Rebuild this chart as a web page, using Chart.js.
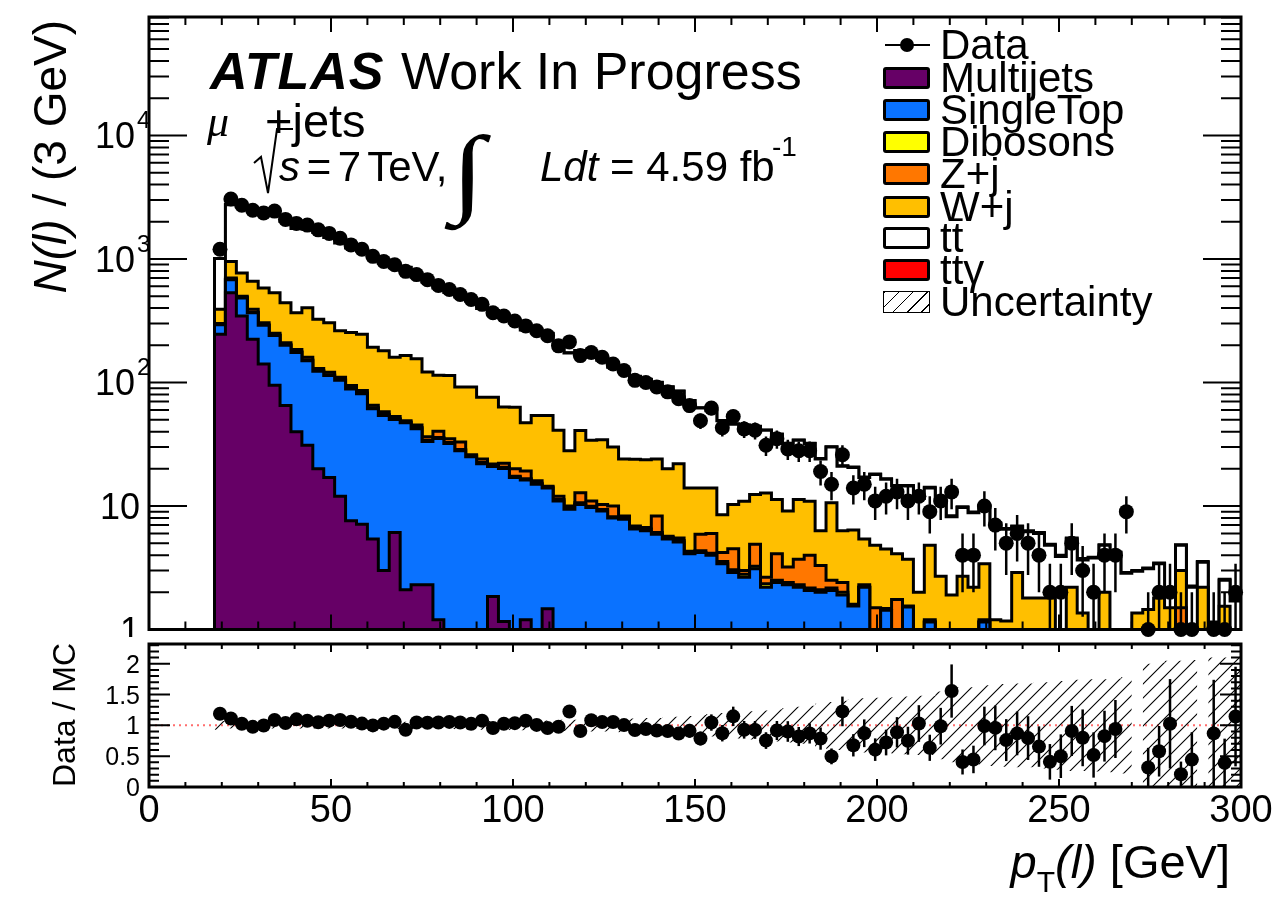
<!DOCTYPE html>
<html lang="en">
<head>
<meta charset="utf-8">
<title>Lepton pT, mu+jets</title>
<script src="https://cdn.jsdelivr.net/npm/chart.js@4.4.1/dist/chart.umd.min.js"></script>
<style>
  html, body { margin: 0; padding: 0; background: #fff; }
  #plot { position: relative; width: 1277px; height: 900px; overflow: hidden;
          font-family: "Liberation Sans", Arial, Helvetica, sans-serif; color: #000; }
  #plot canvas { position: absolute; left: 0; }
  #mainCanvas { top: 0; }
  #ratioCanvas { top: 637px; }
  .t { position: absolute; white-space: nowrap; line-height: 1; }
  .serif { font-family: "Liberation Serif", "DejaVu Serif", serif; }
  .rot { transform-origin: 0 0; transform: rotate(-90deg); text-align: right; }
  .box { position: absolute; left: 883px; width: 47px; height: 22px; box-sizing: border-box;
         border: 3px solid #000; border-radius: 3px; }
  .lab { position: absolute; left: 940px; font-size: 42px; line-height: 1; white-space: nowrap; }
</style>
</head>
<body>
<div id="plot">
  <canvas id="mainCanvas" width="1277" height="637"></canvas>
  <canvas id="ratioCanvas" width="1277" height="263"></canvas>

  <div class="t" style="left:210px; top:45px; font-size:52px; font-weight:bold; font-style:italic; letter-spacing:1px;">ATLAS</div>
  <div class="t" style="left:401px; top:45px; font-size:52px;">Work In Progress</div>
  <div class="t serif" style="left:207px; top:100px; font-size:44px; font-style:italic;">μ</div>
  <div class="t" style="left:265px; top:97px; font-size:47px;">+jets</div>
  <svg style="position:absolute; left:0; top:0;" width="1277" height="300">
    <polyline points="254,163 261,157 268,193 277,129 293,129" fill="none" stroke="#000" stroke-width="2"/>
  </svg>
  <div class="t" style="left:279px; top:146px; font-size:42px; word-spacing:-5px;"><i>s</i> = 7 TeV,</div>
  <div class="t serif" style="left:451px; top:122px; font-size:98px; transform:scaleX(1.25); transform-origin:0 0;">∫</div>
  <div class="t" style="left:540px; top:146px; font-size:42px;"><i>Ldt</i> = 4.59 fb</div>
  <div class="t" style="left:772px; top:133px; font-size:28px;">-1</div>

  <div class="t rot" style="left:27px; top:340px; width:320px; font-size:46px;"><i>N(l)</i> / (3 GeV)</div>
  <div class="t rot" style="left:48px; top:843px; width:200px; font-size:32px;">Data / MC</div>
  <div class="t" style="right:47px; top:838px; font-size:47px;"><i>p</i><span style="font-size:30px; position:relative; top:14px;">T</span><i>(l)</i> [GeV]</div>

  <div id="legend"></div>
</div>

<script>
// ---- binning (GeV) ----
const binEdges = [18, 21, 24, 27, 30, 33, 36, 39, 42, 45,
  48, 51, 54, 57, 60, 63, 66, 69, 72, 75,
  78, 81, 84, 87, 90, 93, 96, 99, 102, 105,
  108, 111, 114, 117, 120, 123, 126, 129, 132, 135,
  138, 141, 144, 147, 150, 153, 156, 159, 162, 165,
  168, 171, 174, 177, 180, 183, 186, 189, 192, 195,
  198, 201, 204, 207, 210, 213, 216, 219, 222, 225,
  228, 231, 234, 237, 240, 243, 246, 249, 252, 255,
  258, 261, 264, 267, 270, 273, 276, 279, 282, 285,
  288, 291, 294, 297, 300];

// ---- events per bin ----
const dataCounts = [1200, 3060, 2720, 2480, 2360, 2440, 2090, 1940, 1880, 1720,
  1610, 1470, 1300, 1200, 1050, 955, 898, 794, 747, 680,
  611, 566, 516, 470, 429, 367, 345, 315, 287, 262,
  239, 198, 213, 165, 175, 160, 141, 125, 104, 100,
  92, 84, 74, 65, 49, 62, 43, 53, 42, 41,
  31, 35, 29, 28, 28, 19, 15, 26, 14, 15,
  11, 12, 13, 11, 12, 9, 11, 13, 4, 4,
  10, 7, 5, 6, 5, 4, 2, 2, 5, 3,
  2, 4, 4, 9, 0, 1, 2, 2, 1, 1,
  0, 1, 1, 2];

const multijets = [246, 532, 345, 224, 141, 95, 65, 40, 31, 20,
  17, 12, 7.6, 7.1, 5.4, 3.0, 6.1, 2.1, 2.3, 2.3,
  1.2, 0, 0, 0, 0, 1.85, 1.16, 0, 1.2, 0,
  1.47, 0, 0, 0, 0, 0, 0, 0, 0, 0,
  0, 0, 0, 0, 0, 0, 0, 0, 0, 0,
  0, 0, 0, 0, 0, 0, 0, 0, 0, 0,
  0, 0, 0, 0, 0, 0, 0, 0, 0, 0,
  0, 0, 0, 0, 0, 0, 0, 0, 0, 0,
  0, 0, 0, 0, 0, 0, 0, 0, 0, 0,
  0, 0, 0, 0];

const singleTop = [48, 148, 139, 143, 149, 145, 135, 135, 119, 103,
  97, 92, 81, 74, 56, 51, 44, 45, 40, 31,
  34, 32, 28, 25, 22, 19, 19, 17, 15, 15,
  12.5, 11, 9.4, 10.3, 9.7, 9.1, 8.0, 7.8, 6.5, 6.3,
  5.9, 5.4, 5.1, 4.1, 4.2, 4.0, 3.4, 2.9, 2.65, 3.1,
  2.2, 2.4, 2.3, 2.2, 2.07, 2.0, 2.07, 1.9, 1.55, 2.2,
  0.8, 1.43, 0.8, 1.52, 0.5, 1.15, 0.3, 0.3, 0.3, 0.3,
  1.15, 0.2, 0.2, 0.2, 0.2, 0.2, 0.2, 0.1, 0.1, 0.1,
  0.1, 0.1, 0.1, 0.1, 0.1, 0.1, 0.1, 0.1, 1.0, 0.1,
  0.1, 0.1, 0.1, 0.1];

const dibosons = [1, 3, 3, 3, 2.5, 2.5, 2, 2, 2, 1.5,
  1.5, 1.5, 1.2, 1.2, 1, 1, 0.8, 0.8, 0.8, 0.7,
  0.7, 0.6, 0.6, 0.5, 0.5, 0.5, 0.4, 0.4, 0.4, 0.3,
  0.3, 0.3, 0.3, 0.3, 0.25, 0.25, 0.2, 0.2, 0.2, 0.2,
  0.2, 0.15, 0.15, 0.15, 0.15, 0.15, 0.15, 0.15, 0.15, 0.15,
  0.15, 0.1, 0.1, 0.1, 0.1, 0.1, 0.1, 0.1, 0, 0,
  0, 0, 0, 0, 0, 0, 0, 0, 0, 0,
  0, 0, 0, 0, 0, 0, 0, 0, 0, 0,
  0, 0, 0, 0, 0, 0, 0, 0, 0, 0,
  0, 0, 0, 0];

const zJets = [5, 17, 13, 21, 12.5, 7.5, 8, 8, 8, 5.5,
  5.5, 4.5, 4.8, 3.8, 3, 3, 2.2, 1.2, 2.2, 2.3,
  4.3, 2.4, 4.4, 0.5, 1.5, 0.5, 1.6, 2.6, 2.6, 0.7,
  0.2, 0.7, 0.3, 2.2, 1.05, 0.95, 1.8, 0.3, 0.2, 0.2,
  2.2, 0.15, 0.25, 0.05, 1.55, 1.85, 0.65, 1.45, 0.2, 1.65,
  0.3, 1.6, 0.8, 1.4, 1.83, 1.2, 0.33, 0.4, 0.05, 0.1,
  0.7, 0.05, 0.95, 0.03, 0.1, 0.05, 0.1, 0.1, 0.1, 0.1,
  0.05, 0.1, 0.1, 0.1, 0.1, 0.1, 0.1, 0.1, 0.1, 0.1,
  0.1, 0.1, 0.1, 0.1, 0.1, 0.1, 0.1, 0.1, 0.5, 0.1,
  0.1, 0.1, 0.1, 0.1];

const wJets = [91, 255, 270, 268, 278, 282, 232, 182, 243, 195,
  184, 152, 159, 160, 127, 123, 107, 116, 110, 85,
  74, 79, 59, 66, 52, 54, 41, 43, 28, 38,
  39.5, 29, 18, 28, 23, 24, 20, 15.7, 17, 17,
  15.7, 14.3, 16.5, 9.7, 8.1, 8, 4.3, 5.8, 7.9, 7.5,
  10.1, 7.2, 5.9, 7.6, 6.9, 3, 8.1, 3.9, 4.8, 3.1,
  3.3, 3.0, 2.35, 2.15, 1.4, 3.6, 2.3, 1.5, 2.3, 1.8,
  2.2, 0.9, 0.87, 2.6, 1.5, 1.5, 1.5, 0.5, 2.0, 1.16,
  0.4, 1.8, 0.4, 0.4, 1.16, 1.25, 1.6, 1.3, 1.5, 0.3,
  2.0, 0.4, 1.34, 0.8];

const ttbar = [617, 1795, 1876, 1876, 1779, 1707, 1567, 1397, 1341, 1310,
  1187, 1086, 972, 918, 855, 746, 687, 689, 556, 529,
  468, 420, 399, 364, 321, 306, 272, 240, 219, 205,
  195, 161, 145, 140, 127, 117, 103, 100, 88, 82,
  76, 72, 63, 57, 48, 45, 40.5, 35.7, 34.1, 31.6,
  28.2, 26.7, 22.9, 22.7, 21.1, 17.7, 19.4, 14.7, 14.1, 11.6,
  13.2, 12, 10.4, 10.8, 9.5, 9.2, 8.3, 6.3, 7.0, 6.6,
  6.6, 6.0, 5.3, 3.9, 4.4, 4.2, 3.0, 3.2, 3.2, 2.3,
  3.2, 2.8, 3.6, 2.25, 1.6, 1.65, 1.6, 0.4, 1.8, 1.7,
  1.3, 0.5, 0.96, 0.7];

const ttGamma = [2, 6, 6, 6, 5, 5, 5, 4, 4, 4,
  4, 3, 3, 3, 3, 2.5, 2.5, 2.5, 2, 2,
  2, 1.8, 1.6, 1.5, 1.4, 1.3, 1.2, 1.1, 1, 1,
  0.9, 0.8, 0.8, 0.7, 0.7, 0.6, 0.6, 0.5, 0.5, 0.5,
  0.4, 0.4, 0.4, 0.35, 0.3, 0.3, 0.3, 0.25, 0.25, 0.25,
  0.2, 0.2, 0.2, 0.2, 0.2, 0.2, 0.2, 0.2, 0.2, 0.2,
  0.15, 0.15, 0.15, 0.15, 0.15, 0.15, 0.15, 0.15, 0.15, 0.15,
  0.1, 0.1, 0.1, 0.1, 0.1, 0.1, 0.1, 0.1, 0.1, 0.1,
  0.05, 0.05, 0.05, 0.05, 0.05, 0.05, 0.05, 0.05, 0.05, 0.05,
  0.05, 0.05, 0.05, 0.05];

// relative MC uncertainty, shown as the hatched band in the ratio
const mcRelErr = [0.07, 0.05, 0.05, 0.05, 0.05, 0.05, 0.05, 0.05, 0.05, 0.05,
  0.05, 0.05, 0.05, 0.05, 0.06, 0.06, 0.06, 0.06, 0.06, 0.06,
  0.06, 0.06, 0.07, 0.07, 0.07, 0.07, 0.07, 0.08, 0.08, 0.08,
  0.08, 0.09, 0.09, 0.09, 0.1, 0.1, 0.1, 0.11, 0.11, 0.12,
  0.12, 0.13, 0.14, 0.15, 0.17, 0.18, 0.2, 0.21, 0.22, 0.23,
  0.24, 0.26, 0.28, 0.3, 0.32, 0.35, 0.38, 0.4, 0.42, 0.44,
  0.45, 0.45, 0.46, 0.47, 0.48, 0.48, 0.55, 0.6, 0.62, 0.62,
  0.65, 0.66, 0.67, 0.68, 0.68, 0.7, 0.7, 0.72, 0.74, 0.74,
  0.75, 0.75, 0.76, 0.78, 0.8, 1.0, 1.02, 1.05, 1.05, 1.06,
  1.08, 1.1, 1.1, 1.12];

const sampleNames = ['Multijets', 'SingleTop', 'Dibosons', 'Z+j', 'W+j', 'tt̄', 'ttγ'];
const sampleColors = ['#660066', '#0a72ff', '#ffff00', '#ff7700', '#ffbf00', '#ffffff', '#ff0000'];

const xTicks = [0, 50, 100, 150, 200, 250, 300];
const yTicks = [1, 10, 100, 1000, 10000];
const yTickText = [['1', ''], ['10', ''], ['10', '2'], ['10', '3'], ['10', '4']];
const ratioTicks = [0, 0.5, 1, 1.5, 2];
const ratioTickText = ['0', '0.5', '1', '1.5', '2'];

const FONT = px => px + 'px "Liberation Sans", Arial, Helvetica, sans-serif';
const FLOOR = 1e-3;   // stands in for empty bins on the log axis
const nBins = dataCounts.length;
const centers = binEdges.slice(0, -1).map((lo, i) => (lo + binEdges[i + 1]) / 2);

// running sums -> top edge of every layer of the stack
const samples = [multijets, singleTop, dibosons, zJets, wJets, ttbar, ttGamma];
const layerTops = [];
let acc = new Array(nBins).fill(0);
samples.forEach(s => {
    acc = acc.map((a, i) => a + s[i]);
    layerTops.push(acc);
});
const mcTotal = layerTops[layerTops.length - 1];

function stepPoints(vals) {
    const pts = [{ x: binEdges[0], y: FLOOR }];
    vals.forEach((v, i) => {
        const y = v > 0 ? v : FLOOR;
        pts.push({ x: binEdges[i], y }, { x: binEdges[i + 1], y });
    });
    pts.push({ x: binEdges[nBins], y: FLOOR });
    return pts;
}

const dataPts = [], dataErr = [], ratioPts = [], ratioErr = [];
dataCounts.forEach((n, i) => {
    if (n <= 0) return;
    dataPts.push({ x: centers[i], y: n });
    dataErr.push(Math.sqrt(n));
    ratioPts.push({ x: centers[i], y: n / mcTotal[i] });
    ratioErr.push(Math.sqrt(n) / mcTotal[i]);
});

function bandPoints(sign) {
    const pts = [];
    dataCounts.forEach((n, i) => {
        if (n > 0) {
            const y = 1 + sign * mcRelErr[i];
            pts.push({ x: binEdges[i], y }, { x: binEdges[i + 1], y });
        } else {
            pts.push({ x: centers[i], y: null });
        }
    });
    return pts;
}

function makeHatch() {
    const s = 14;
    const c = document.createElement('canvas');
    c.width = s; c.height = s;
    const g = c.getContext('2d');
    g.strokeStyle = '#000';
    g.lineWidth = 1.1;
    g.beginPath();
    g.moveTo(0, s); g.lineTo(s, 0);
    g.moveTo(-2, 2); g.lineTo(2, -2);
    g.moveTo(s - 2, s + 2); g.lineTo(s + 2, s - 2);
    g.stroke();
    return g.createPattern(c, 'repeat');
}

// vertical error bars on the first dataset
const errorBars = {
    id: 'errorBars',
    afterDatasetsDraw(chart, args, opts) {
        const { ctx, chartArea: a, scales: { y } } = chart;
        const meta = chart.getDatasetMeta(0);
        const pts = chart.data.datasets[0].data;
        ctx.save();
        ctx.beginPath();
        ctx.rect(a.left, a.top, a.right - a.left, a.bottom - a.top);
        ctx.clip();
        ctx.strokeStyle = '#000';
        ctx.lineWidth = opts.width;
        meta.data.forEach((el, i) => {
            const v = pts[i].y, e = opts.errors[i];
            if (v > y.max) return;
            const lo = v - e;
            ctx.beginPath();
            ctx.moveTo(el.x, y.getPixelForValue(v + e));
            ctx.lineTo(el.x, lo > 0 ? y.getPixelForValue(lo) : a.bottom);
            ctx.stroke();
        });
        ctx.restore();
    }
};

const mainAxes = {
    id: 'mainAxes',
    afterDraw(chart) {
        const { ctx, chartArea: a, scales: { x, y } } = chart;
        ctx.save();
        ctx.strokeStyle = '#000';
        ctx.lineWidth = 2;
        ctx.beginPath();
        for (let v = 0; v <= 300; v += 10) {
            const px = x.getPixelForValue(v), len = v % 50 === 0 ? 15 : 8;
            ctx.moveTo(px, a.bottom); ctx.lineTo(px, a.bottom - len);
            ctx.moveTo(px, a.top); ctx.lineTo(px, a.top + len);
        }
        for (let d = 1; d <= 10000; d *= 10) {
            for (let m = 1; m <= 9; m++) {
                const v = m * d;
                if (v > y.max) break;
                const py = y.getPixelForValue(v), len = m === 1 ? 38 : 20;
                ctx.moveTo(a.left, py); ctx.lineTo(a.left + len, py);
                ctx.moveTo(a.right, py); ctx.lineTo(a.right - len, py);
            }
        }
        ctx.stroke();
        ctx.lineWidth = 3;
        ctx.strokeRect(a.left, a.top, a.right - a.left, a.bottom - a.top);

        ctx.fillStyle = '#000';
        ctx.textBaseline = 'alphabetic';
        yTicks.forEach((v, k) => {
            const py = y.getPixelForValue(v);
            const [base, exp] = yTickText[k];
            ctx.font = FONT(36);
            ctx.textAlign = 'right';
            if (exp) {
                ctx.fillText(base, 135, py + 13);
                ctx.font = FONT(24);
                ctx.textAlign = 'left';
                ctx.fillText(exp, 137, py - 7);
            } else {
                ctx.fillText(base, 140, py + 13);
            }
        });
        ctx.restore();
    }
};

const ratioAxes = {
    id: 'ratioAxes',
    beforeDatasetsDraw(chart) {
        const { ctx, chartArea: a, scales: { y } } = chart;
        const py = y.getPixelForValue(1);
        ctx.save();
        ctx.strokeStyle = 'rgba(255, 60, 60, 0.75)';
        ctx.lineWidth = 2;
        ctx.setLineDash([2, 4]);
        ctx.beginPath();
        ctx.moveTo(a.left, py); ctx.lineTo(a.right, py);
        ctx.stroke();
        ctx.restore();
    },
    afterDraw(chart) {
        const { ctx, chartArea: a, scales: { x, y } } = chart;
        ctx.save();
        ctx.strokeStyle = '#000';
        ctx.lineWidth = 2;
        ctx.beginPath();
        for (let v = 0; v <= 300; v += 10) {
            const px = x.getPixelForValue(v), len = v % 50 === 0 ? 8 : 5;
            ctx.moveTo(px, a.bottom); ctx.lineTo(px, a.bottom - len);
            ctx.moveTo(px, a.top); ctx.lineTo(px, a.top + len);
        }
        for (let k = 0; k <= 23; k++) {
            const py = y.getPixelForValue(k / 10), len = k % 5 === 0 ? 21 : 10;
            ctx.moveTo(a.left, py); ctx.lineTo(a.left + len, py);
            ctx.moveTo(a.right, py); ctx.lineTo(a.right - len, py);
        }
        ctx.stroke();
        ctx.lineWidth = 3;
        ctx.strokeRect(a.left, a.top, a.right - a.left, a.bottom - a.top);

        ctx.fillStyle = '#000';
        ctx.textBaseline = 'alphabetic';
        ctx.font = FONT(25);
        ctx.textAlign = 'right';
        ratioTicks.forEach((v, k) => ctx.fillText(ratioTickText[k], 140, y.getPixelForValue(v) + 9));
        ctx.font = FONT(38);
        ctx.textAlign = 'center';
        xTicks.forEach(v => ctx.fillText(String(v), x.getPixelForValue(v), a.bottom + 35));
        ctx.restore();
    }
};

const common = {
    responsive: false,
    animation: false,
    devicePixelRatio: 1,
    events: []
};

new Chart(document.getElementById('mainCanvas'), {
    type: 'line',
    data: {
        datasets: [
            {
                label: 'Data', data: dataPts, showLine: false, clip: 10,
                pointRadius: 7.5, pointHoverRadius: 7.5, pointBorderWidth: 0,
                pointBackgroundColor: '#000', pointBorderColor: '#000'
            },
            ...layerTops.map((lv, k) => ({
                label: sampleNames[k],
                data: stepPoints(lv),
                borderColor: '#000',
                borderWidth: 3,
                borderJoinStyle: 'miter',
                backgroundColor: sampleColors[k],
                fill: 'start',
                pointRadius: 0
            }))
        ]
    },
    options: {
        ...common,
        layout: { padding: { left: 149, right: 36, top: 17, bottom: 0 } },
        scales: {
            x: { type: 'linear', min: 0, max: 300, display: false },
            y: { type: 'logarithmic', min: 1, max: 91000, display: false }
        },
        plugins: {
            legend: { display: false },
            tooltip: { enabled: false },
            errorBars: { errors: dataErr, width: 2.5 }
        }
    },
    plugins: [errorBars, mainAxes]
});

new Chart(document.getElementById('ratioCanvas'), {
    type: 'line',
    data: {
        datasets: [
            {
                label: 'Data / MC', data: ratioPts, showLine: false,
                pointRadius: 7, pointHoverRadius: 7, pointBorderWidth: 0,
                pointBackgroundColor: '#000', pointBorderColor: '#000'
            },
            {
                label: 'Uncertainty', data: bandPoints(1), borderColor: 'rgba(0,0,0,0)',
                pointRadius: 0, fill: '+1', backgroundColor: makeHatch()
            },
            {
                label: 'Uncertainty low', data: bandPoints(-1), borderColor: 'rgba(0,0,0,0)',
                pointRadius: 0, fill: false
            }
        ]
    },
    options: {
        ...common,
        layout: { padding: { left: 149, right: 36, top: 0, bottom: 113 } },
        scales: {
            x: { type: 'linear', min: 0, max: 300, display: false },
            y: { type: 'linear', min: 0, max: 2.32, display: false }
        },
        plugins: {
            legend: { display: false },
            tooltip: { enabled: false },
            errorBars: { errors: ratioErr, width: 2.5 }
        }
    },
    plugins: [errorBars, ratioAxes]
});

// legend, ROOT style
const legendRows = [45, 78, 110, 142, 174, 207, 238, 270, 302];
const legend = document.getElementById('legend');
function addLabel(text, cy) {
    const d = document.createElement('div');
    d.className = 'lab';
    d.style.top = (cy - 20.6) + 'px';
    d.textContent = text;
    legend.appendChild(d);
}
function addDiv(css) {
    const d = document.createElement('div');
    d.style.cssText = 'position:absolute;' + css;
    legend.appendChild(d);
    return d;
}
addDiv(`left:885px; top:${legendRows[0] - 1}px; width:45px; height:2px; background:#000;`);
addDiv(`left:900px; top:${legendRows[0] - 7}px; width:14px; height:14px; border-radius:50%; background:#000;`);
addLabel('Data', legendRows[0]);
sampleNames.forEach((name, k) => {
    const cy = legendRows[k + 1];
    const b = addDiv('');
    b.className = 'box';
    b.style.top = (cy - 11) + 'px';
    b.style.background = sampleColors[k];
    addLabel(name, cy);
});
const ub = addDiv('');
ub.className = 'box';
ub.style.top = (legendRows[8] - 11) + 'px';
ub.style.border = '1.5px solid #000';
ub.style.borderRadius = '0';
ub.style.background = 'repeating-linear-gradient(135deg, #000 0 1.2px, #fff 1.2px 10px)';
addLabel('Uncertainty', legendRows[8]);
</script>
</body>
</html>
